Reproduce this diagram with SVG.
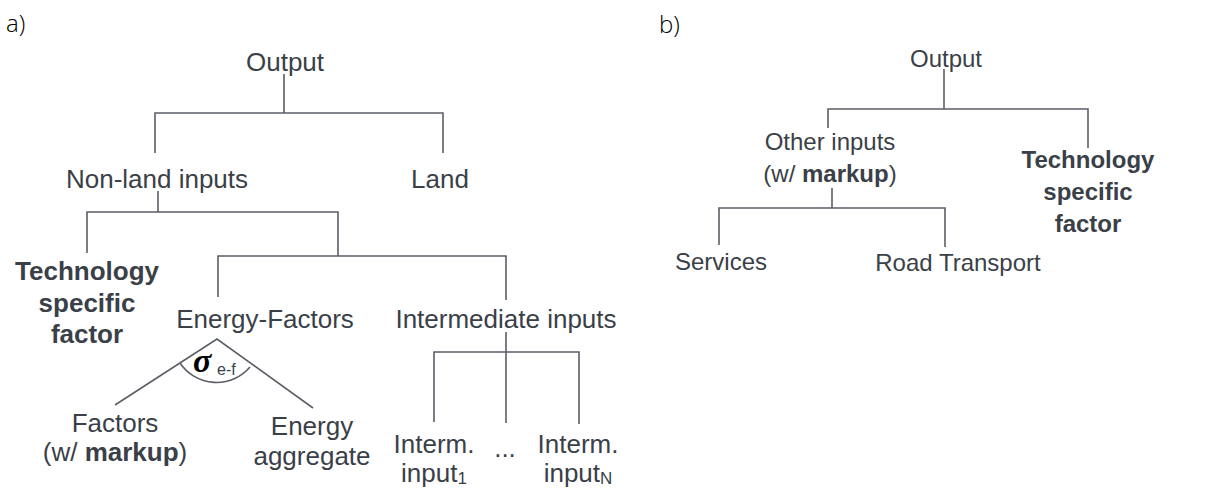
<svg xmlns="http://www.w3.org/2000/svg" width="1215" height="488" viewBox="0 0 1215 488">
<style>
.t{font-family:"Liberation Sans",Arial,sans-serif;fill:#3a3f48;text-anchor:middle}
.a{font-size:26px}
.b{font-size:24px}
.bold{font-weight:bold}
.lab{font-family:"Open Sans",sans-serif;font-weight:300;font-size:24px;fill:#000}
.ln{stroke:#5a5e66;stroke-width:1.6;fill:none}
</style>
<rect width="1215" height="488" fill="#fff"/>
<text class="lab" x="6" y="32">a)</text>
<text class="lab" x="659" y="33">b)</text>
<g id="connectors">
<path class="ln" d="M284 74V113M155 153V113H443V153"/>
<path class="ln" d="M158 191V212M87 253V212H338V256"/>
<path class="ln" d="M218 297V256H506V300"/>
<path class="ln" d="M115 405L217 339L313 408"/>
<path class="ln" d="M180 363A44 44 0 0 0 250 367"/>
<path class="ln" d="M506 332V423M434 422V352H579V424"/>
<path class="ln" d="M944 69V109M828 128V109H1088V148"/>
<path class="ln" d="M832 188V208M719 245V208H945V247"/>
</g>
<g id="a-output"><text class="t a" x="285" y="71">Output</text></g>
<g id="a-nonland"><text class="t a" x="157" y="188">Non-land inputs</text></g>
<g id="a-land"><text class="t a" x="440" y="188">Land</text></g>
<g id="a-tech"><text class="t a bold" x="87" y="280">Technology</text><text class="t a bold" x="87" y="312">specific</text><text class="t a bold" x="87" y="343">factor</text></g>
<g id="a-energyfactors"><text class="t a" x="265" y="328">Energy-Factors</text></g>
<g id="a-sigma"><text x="193" y="372" style="font-family:'Liberation Serif',serif;font-style:italic;font-weight:bold;font-size:34px;fill:#000">σ</text><text x="217" y="375" style="font-family:'Liberation Sans',sans-serif;font-size:16px;fill:#3a3f48">e-f</text></g>
<g id="a-factors"><text class="t a" x="115" y="432">Factors</text><text class="t a" x="115" y="461">(w/ <tspan class="bold">markup</tspan>)</text></g>
<g id="a-energyagg"><text class="t a" x="312" y="435">Energy</text><text class="t a" x="312" y="465">aggregate</text></g>
<g id="a-intermediate"><text class="t a" x="506" y="328">Intermediate inputs</text></g>
<g id="a-interm1"><text class="t a" x="434" y="453">Interm.</text><text class="t a" x="434" y="482">input<tspan font-size="17" dy="2">1</tspan></text></g>
<g id="a-dots"><text class="t a" x="505" y="457">...</text></g>
<g id="a-intermN"><text class="t a" x="578" y="453">Interm.</text><text class="t a" x="578" y="482">input<tspan font-size="17" dy="2">N</tspan></text></g>
<g id="b-output"><text class="t b" x="946" y="67">Output</text></g>
<g id="b-other"><text class="t b" x="830" y="150">Other inputs</text><text class="t b" x="830" y="182">(w/ <tspan class="bold">markup</tspan>)</text></g>
<g id="b-tech"><text class="t b bold" x="1088" y="168">Technology</text><text class="t b bold" x="1088" y="200">specific</text><text class="t b bold" x="1088" y="232">factor</text></g>
<g id="b-services"><text class="t b" x="721" y="270">Services</text></g>
<g id="b-road"><text class="t b" x="958" y="271">Road Transport</text></g>
</svg>
